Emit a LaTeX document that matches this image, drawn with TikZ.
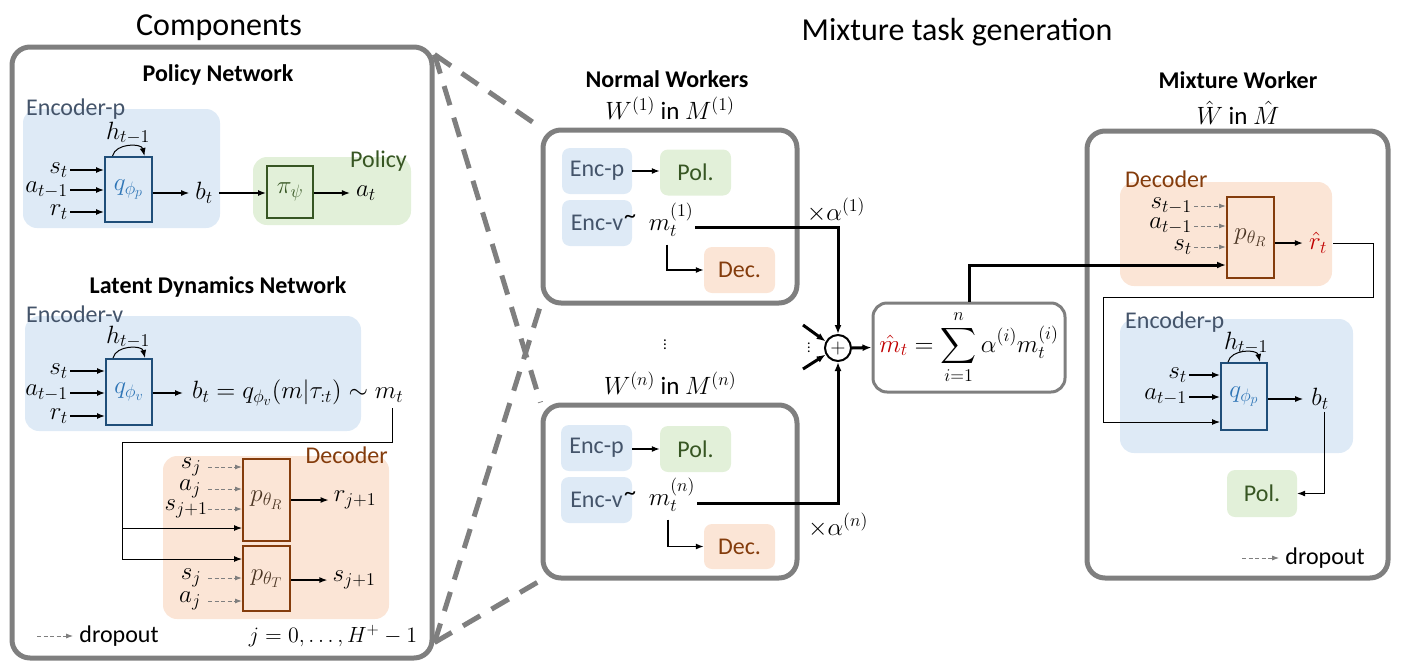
\documentclass[tikz,border=0pt]{standalone}
\usepackage[no-math]{fontspec}
\setmainfont{Carlito}
\DeclareFontShape{OML}{cmm}{m}{it}{<-8>cmmi7 <8-11>cmmi10 <11->cmmi12}{}
\DeclareFontShape{OMS}{cmsy}{m}{n}{<-8>cmsy7 <8->cmsy10}{}
\DeclareFontShape{OT1}{cmr}{m}{n}{<-8>cmr7 <8-11>cmr10 <11->cmr12}{}
\DeclareFontShape{OMX}{cmex}{m}{n}{<->cmex10}{}
\DeclareMathSizes{25}{25}{18}{14}
\DeclareMathSizes{22}{22}{16}{12}
\usetikzlibrary{arrows.meta,calc}
\definecolor{bgblue}{HTML}{DEEAF6}
\definecolor{bggreen}{HTML}{E2F0D9}
\definecolor{bgorange}{HTML}{FBE5D6}
\definecolor{txtblue}{HTML}{44546A}
\definecolor{txtgreen}{HTML}{375623}
\definecolor{txtbrown}{HTML}{843C0C}
\definecolor{qborder}{HTML}{1F4E79}
\definecolor{qtext}{HTML}{2E75B6}
\definecolor{panelgray}{HTML}{7F7F7F}
\definecolor{hired}{HTML}{C00000}
\definecolor{ptext}{HTML}{4A3422}
\newcommand{\myfsMath}{\fontsize{25}{29}\selectfont}
\newcommand{\myfsUI}{\fontsize{24}{28}\selectfont}
\newcommand{\myfsBold}{\fontsize{24}{28}\selectfont\bfseries}
\newcommand{\myfsBig}{\fontsize{32}{38}\selectfont}
\tikzset{
  m/.style={font=\myfsMath},
  uitext/.style={font=\myfsUI},
  grouplbl/.style={font=\myfsUI},
  boldt/.style={font=\myfsBold},
  bigtitle/.style={font=\myfsBig},
  panel/.style={draw=panelgray, line width=5pt, rounded corners=18pt, inner sep=0pt},
  bgbox/.style={fill=#1, rounded corners=14pt, inner sep=0pt},
  smallbox/.style={fill=#1, rounded corners=8pt, inner sep=0pt, minimum width=70pt, minimum height=46pt, font=\myfsUI},
  qbox/.style={draw=qborder, line width=2pt, text=qtext, font=\myfsMath, inner sep=0pt},
  pibox/.style={draw=txtgreen, line width=2pt, text=txtgreen, font=\myfsMath, inner sep=0pt},
  pbox/.style={draw=txtbrown, line width=2pt, text=ptext, font=\myfsMath, inner sep=0pt},
  arr/.style={-{Latex[length=8pt,width=6pt]}, line width=1.3pt},
  thinline/.style={-{Latex[length=8pt,width=6pt]}, line width=1pt},
  thickarr/.style={-{Latex[length=9pt,width=7pt]}, line width=3pt},
  dasharr/.style={-{Latex[length=7pt,width=5pt]}, line width=1pt, draw=panelgray, dash pattern=on 4pt off 2.5pt},
  bigdash/.style={draw=panelgray, line width=5pt, dash pattern=on 20pt off 13pt},
}
\begin{document}
\begin{tikzpicture}[x=1pt,y=-1pt, every node/.style={inner sep=2pt}]
\useasboundingbox (0,0) rectangle (1409,670);

% titles
\node[bigtitle] (tComp) at (219,28) {Components};
\node[bigtitle] (tMix) at (957,32) {Mixture task generation};

% ===== left panel =====
\node[panel, minimum width=420pt, minimum height=611pt] (Lpanel) at (222,352.5) {};
\node[boldt] (tPN) at (218,75) {Policy Network};

\node[bgbox=bgblue, minimum width=197pt, minimum height=119pt] (encP1) at (121.5,168.5) {};
\node[grouplbl, text=txtblue, anchor=base west] (lEncP1) at (24,115) {Encoder-p};
\node[qbox, minimum width=47pt, minimum height=65pt] (q1) at (128.5,189.5) {$q_{\phi_p}$};
\node[m] (h1) at (128,133) {$h_{t-1}$};
\draw[thinline] ($(q1.north)+(-16,0)$) .. controls +(3,-13) and +(-3,-13) .. ($(q1.north)+(16,0)$);
\node[m, anchor=east] (s1) at (70,170) {$s_t$};
\node[m, anchor=east] (a1) at (70,190) {$a_{t-1}$};
\node[m, anchor=east] (r1) at (70,212) {$r_t$};
\draw[arr] (s1.east) -- (s1.east -| q1.west);
\draw[arr] (a1.east) -- (a1.east -| q1.west);
\draw[arr] (r1.east) -- (r1.east -| q1.west);
\node[m, inner xsep=6pt] (b1) at (204,193) {$b_t$};
\draw[arr] (q1.east |- b1.west) -- (b1.west);

\node[bgbox=bggreen, minimum width=158pt, minimum height=68pt] (polbg) at (332,191) {};
\node[grouplbl, text=txtgreen, anchor=base east] (lPol) at (409,167) {Policy};
\node[pibox, minimum width=46pt, minimum height=52pt] (pi) at (290,192) {$\pi_\psi$};
\draw[arr] (b1.east) -- (b1.east -| pi.west);
\node[m, inner xsep=6pt] (at1) at (366,193) {$a_t$};
\draw[arr] (pi.east |- at1.west) -- (at1.west);

\node[boldt] (tLD) at (218,287) {Latent Dynamics Network};
\node[bgbox=bgblue, minimum width=336pt, minimum height=115pt] (encV) at (193,373.5) {};
\node[grouplbl, text=txtblue, anchor=base west] (lEncV) at (24,322) {Encoder-v};
\node[qbox, minimum width=46pt, minimum height=66pt] (q2) at (129,392) {$q_{\phi_v}$};
\node[m] (h2) at (128,337) {$h_{t-1}$};
\draw[thinline] ($(q2.north)+(-16,0)$) .. controls +(3,-13) and +(-3,-13) .. ($(q2.north)+(16,0)$);
\node[m, anchor=east] (s2) at (70,371) {$s_t$};
\node[m, anchor=east] (a2) at (70,393) {$a_{t-1}$};
\node[m, anchor=east] (r2) at (70,416) {$r_t$};
\draw[arr] (s2.east) -- (s2.east -| q2.west);
\draw[arr] (a2.east) -- (a2.east -| q2.west);
\draw[arr] (r2.east) -- (r2.east -| q2.west);
\node[m, anchor=west, inner xsep=9pt] (eqv) at (183,393) {$b_t = q_{\phi_v}(m|\tau_{:t}) \sim m_t$};
\draw[arr] (q2.east |- eqv.west) -- (eqv.west);

\node[bgbox=bgorange, minimum width=226pt, minimum height=163pt] (decbg) at (276,537.5) {};
\node[grouplbl, text=txtbrown, anchor=base east] (lDec1) at (390,463) {Decoder};
\node[pbox, minimum width=47pt, minimum height=82pt] (pR) at (266.5,500) {$p_{\theta_R}$};
\node[pbox, minimum width=47pt, minimum height=65pt] (pT) at (266.5,578.5) {$p_{\theta_T}$};

\coordinate (mtb) at (392,408);
\coordinate (jL) at (122,442);
\draw[thinline] (mtb) |- (jL) |- ($(pR.south west)+(0,-14)$);
\draw[thinline] (jL) |- ($(pT.north west)+(0,14)$);

\coordinate (dx) at (208,0);
\node[m] (sj1) at (191,467) {$s_j$};
\node[m] (aj1) at (190,489) {$a_j$};
\node[m] (sjp1) at (186,509) {$s_{j+1}$};
\node[m] (sj2) at (191,578) {$s_j$};
\node[m] (aj2) at (190,601) {$a_j$};
\draw[dasharr] (sj1 -| dx) -- (sj1 -| pR.west);
\draw[dasharr] (aj1 -| dx) -- (aj1 -| pR.west);
\draw[dasharr] (sjp1 -| dx) -- (sjp1 -| pR.west);
\draw[dasharr] (sj2 -| dx) -- (sj2 -| pT.west);
\draw[dasharr] (aj2 -| dx) -- (aj2 -| pT.west);
\node[m, inner xsep=5pt] (rjo) at (355,500) {$r_{j+1}$};
\node[m, inner xsep=5pt] (sjo) at (354,580) {$s_{j+1}$};
\draw[arr] (pR.east |- rjo.west) -- (rjo.west);
\draw[arr] (pT.east |- sjo.west) -- (sjo.west);

\node[uitext] (ldrop) at (119,636) {dropout};
\coordinate (ld0) at (37,636);
\draw[dasharr] (ld0) -- ([xshift=-4pt]ldrop.west);
\node[font=\fontsize{22}{26}\selectfont] (jrange) at (333,636) {$j = 0,\ldots,H^+-1$};

% ===== middle =====
\node[boldt] (tNW) at (667,79) {Normal Workers};
\node[m] (w1) at (670,108) {$W^{(1)}$ in $M^{(1)}$};
\node[panel, minimum width=254pt, minimum height=173pt] (box1) at (670,216.5) {};
\node[smallbox=bgblue, text=txtblue] (ep1) at (597,171) {Enc-p};
\node[smallbox=bggreen, text=txtgreen, minimum width=71pt] (pol1) at (695.5,172.5) {Pol.};
\draw[arr] (ep1.east) -- (ep1.east -| pol1.west);
\node[smallbox=bgblue, text=txtblue] (ev1) at (597,223) {Enc-v};
\node[uitext] (til1) at (630,219) {\textasciitilde};
\node[m] (m1) at (671,220) {$m_t^{(1)}$};
\node[smallbox=bgorange, text=txtbrown, minimum width=71pt] (dec1) at (739.5,270) {Dec.};
\draw[arr] ($(m1.south)+(-4,6)$) |- (dec1.west);
\node[m] (al1) at (836,210) {$\times\alpha^{(1)}$};

\node[font=\fontsize{15}{18}\selectfont] (vd) at (665,342) {$\vdots$};
\node[m] (wn) at (670,383) {$W^{(n)}$ in $M^{(n)}$};
\node[panel, minimum width=254pt, minimum height=173pt] (boxn) at (670,491.5) {};
\node[smallbox=bgblue, text=txtblue, minimum width=71pt] (epn) at (596.5,448) {Enc-p};
\node[smallbox=bggreen, text=txtgreen, minimum width=71pt] (poln) at (695.5,449) {Pol.};
\draw[arr] (epn.east |- poln.west) -- (poln.west);
\node[smallbox=bgblue, text=txtblue, minimum width=71pt] (evn) at (596.5,500) {Enc-v};
\node[uitext] (tiln) at (630,496) {\textasciitilde};
\node[m] (mn) at (672,495) {$m_t^{(n)}$};
\node[smallbox=bgorange, text=txtbrown, minimum width=71pt, minimum height=45pt] (decn) at (739.5,546.5) {Dec.};
\draw[arr] ($(mn.south)+(-4,6)$) |- (decn.west);
\node[m] (aln) at (838,525) {$\times\alpha^{(n)}$};

% dashed zoom lines
\draw[bigdash] ([yshift=-10pt]Lpanel.north east) -- (box1.north west);
\draw[bigdash] ([yshift=-10pt]Lpanel.north east) -- (boxn.north west);
\draw[bigdash] ([yshift=18pt]Lpanel.south east) -- (box1.south west);
\draw[bigdash] ([yshift=18pt]Lpanel.south east) -- (boxn.south west);

% plus and sum
\node[circle, draw, line width=2pt, minimum size=26pt, inner sep=0pt, font=\fontsize{20}{20}\selectfont] (plus) at (838,348) {$+$};
\draw[thickarr] ([yshift=-7pt]m1.east) -| (plus.north);
\draw[thickarr] ([yshift=-8pt]mn.east) -| (plus.south);
\coordinate (dg1) at (803,325);
\coordinate (dg2) at (803,369);
\draw[thickarr] (dg1) -- (plus.152);
\draw[thickarr] (dg2) -- (plus.208);
\node[font=\fontsize{14}{16}\selectfont] (vd2) at (809,345) {$\vdots$};
\node[draw=panelgray, line width=3pt, rounded corners=14pt, minimum width=192pt, minimum height=89pt, inner sep=0pt, font=\myfsMath] (sumbox) at (969,347.5)
  {$\textcolor{hired}{\hat m_t} = \displaystyle\sum_{i=1}^{n} \alpha^{(i)} m_t^{(i)}$};
\draw[thickarr] (plus.east) -- (sumbox.west);

% ===== right panel =====
\node[boldt] (tMW) at (1238,80) {Mixture Worker};
\node[m] (whm) at (1238,113) {$\hat W$ in $\hat M$};
\node[panel, minimum width=301pt, minimum height=447pt] (Rpanel) at (1237.5,354.5) {};

\node[bgbox=bgorange, minimum width=212pt, minimum height=104pt] (decbg2) at (1226,234) {};
\node[grouplbl, text=txtbrown, anchor=base west] (lDec2) at (1123,187) {Decoder};
\node[pbox, minimum width=47pt, minimum height=81pt] (pR2) at (1250.5,237.5) {$p_{\theta_R}$};
\node[m, anchor=east] (st1r) at (1194,206) {$s_{t-1}$};
\node[m, anchor=east] (at1r) at (1194,226) {$a_{t-1}$};
\node[m, anchor=east] (str) at (1194,247) {$s_t$};
\draw[dasharr] (st1r.east) -- (st1r.east -| pR2.west);
\draw[dasharr] (at1r.east) -- (at1r.east -| pR2.west);
\draw[dasharr] (str.east) -- (str.east -| pR2.west);
\draw[thickarr] (sumbox.north) |- ($(pR2.south west)+(0,-14)$);
\node[m, text=hired, inner xsep=6pt] (rhat) at (1318,243) {$\hat r_t$};
\draw[arr] (pR2.east |- rhat.west) -- (rhat.west);

\node[bgbox=bgblue, minimum width=233pt, minimum height=134pt] (encP2) at (1236.5,386) {};
\node[grouplbl, text=txtblue, anchor=base west] (lEncP2) at (1123,328) {Encoder-p};
\node[qbox, minimum width=46pt, minimum height=67pt] (qp2) at (1244,396.5) {$q_{\phi_p}$};
\node[m] (h3) at (1246,343) {$h_{t-1}$};
\draw[thinline] ($(qp2.north)+(-16,0)$) .. controls +(3,-13) and +(-3,-13) .. ($(qp2.north)+(16,0)$);
\node[m, anchor=east] (s3) at (1189,375) {$s_t$};
\node[m, anchor=east] (a3) at (1189,397) {$a_{t-1}$};
\draw[arr] (s3.east) -- (s3.east -| qp2.west);
\draw[arr] (a3.east) -- (a3.east -| qp2.west);
\coordinate (c1) at (1373,297);
\coordinate (c2) at (1103,297);
\draw[thinline] (rhat.east) -| (c1) -- (c2) |- ($(qp2.south west)+(0,-9)$);
\node[m, inner xsep=8pt] (bt2) at (1320,399) {$b_t$};
\draw[arr] (qp2.east |- bt2.west) -- (bt2.west);
\node[smallbox=bggreen, text=txtgreen, minimum height=47pt] (pol2) at (1262,493.5) {Pol.};
\draw[thinline] ([xshift=4pt]bt2.south) |- (pol2.east);

\node[uitext] (rdrop) at (1325,558) {dropout};
\coordinate (rd0) at (1242,558);
\draw[dasharr] (rd0) -- ([xshift=-4pt]rdrop.west);
\end{tikzpicture}
\end{document}
